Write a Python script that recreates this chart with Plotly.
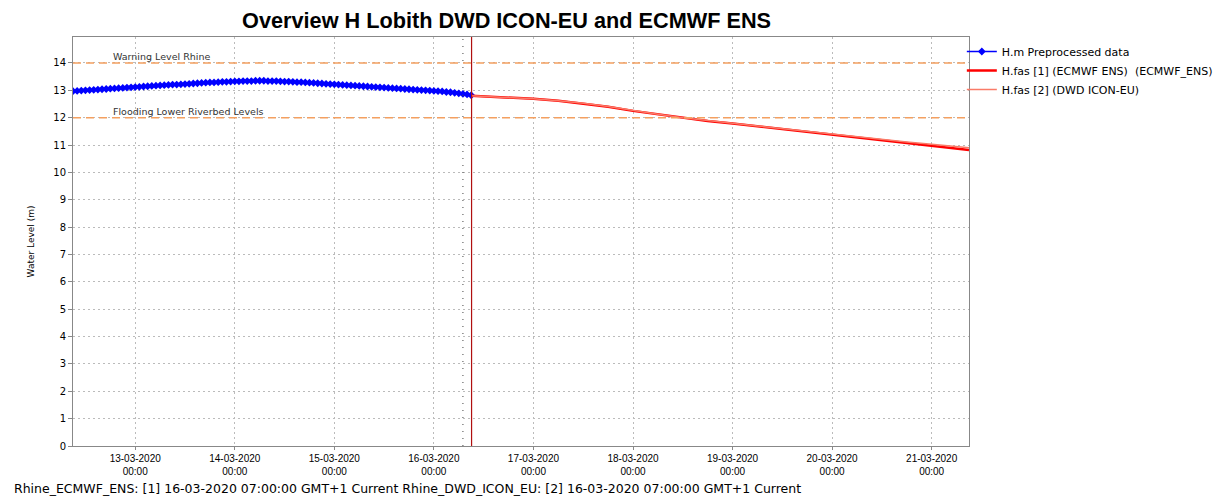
import plotly.graph_objects as go
import pandas as pd

# ---------------- data ----------------
obs_start = "2020-03-12 09:00"
obs_values = [
    12.97, 12.98, 12.99, 13.00, 13.01, 13.02, 13.03, 13.04, 13.05, 13.06, 13.07, 13.08, 13.09, 13.10, 13.11,
    13.12, 13.13, 13.14, 13.15, 13.16, 13.17, 13.18, 13.19, 13.20, 13.21, 13.21, 13.22, 13.23, 13.24, 13.25,
    13.26, 13.27, 13.28, 13.29, 13.29, 13.30, 13.31, 13.31, 13.32,
    13.33, 13.33, 13.34, 13.34, 13.34, 13.35, 13.35, 13.35, 13.34, 13.34, 13.34, 13.33, 13.32, 13.32, 13.31,
    13.30, 13.30, 13.29, 13.28, 13.27, 13.26, 13.25, 13.24, 13.23,
    13.22, 13.21, 13.20, 13.19, 13.18, 13.17, 13.16, 13.15, 13.14, 13.13, 13.12, 13.11, 13.10, 13.09, 13.08,
    13.07, 13.06, 13.05, 13.04, 13.03, 13.02, 13.01, 13.00, 12.99,
    12.98, 12.97, 12.96, 12.94, 12.93, 12.91, 12.89, 12.87, 12.85, 12.82,
]

fc_times = [
    "2020-03-16 09:00", "2020-03-16 12:00", "2020-03-16 18:00",
    "2020-03-17 00:00", "2020-03-17 06:00", "2020-03-17 12:00", "2020-03-17 18:00",
    "2020-03-18 00:00", "2020-03-18 06:00", "2020-03-18 12:00", "2020-03-18 18:00",
    "2020-03-19 00:00", "2020-03-19 06:00", "2020-03-19 12:00", "2020-03-19 18:00",
    "2020-03-20 00:00", "2020-03-20 06:00", "2020-03-20 12:00", "2020-03-20 18:00",
    "2020-03-21 00:00", "2020-03-21 06:00", "2020-03-21 09:00",
]
ecmwf_values = [12.80, 12.78, 12.74, 12.69, 12.62, 12.52, 12.40, 12.25, 12.12, 11.99, 11.88,
                11.79, 11.69, 11.59, 11.48, 11.37, 11.27, 11.17, 11.07, 10.98, 10.87, 10.82]
dwd_values = [12.80, 12.78, 12.74, 12.69, 12.62, 12.53, 12.41, 12.26, 12.13, 12.00, 11.89,
              11.80, 11.70, 11.60, 11.50, 11.39, 11.30, 11.20, 11.11, 11.03, 10.94, 10.90]

threshold_values = [14, 12]
threshold_labels = ["Warning Level Rhine", "Flooding Lower Riverbed Levels"]

tick_days = ["2020-03-13", "2020-03-14", "2020-03-15", "2020-03-16", "2020-03-17",
             "2020-03-18", "2020-03-19", "2020-03-20", "2020-03-21"]
tick_text = [pd.Timestamp(d).strftime("%d-%m-%Y") + "<br>00:00" for d in tick_days]

t0_time = "2020-03-16 07:00"
now_time = "2020-03-16 09:05"
x_range = ["2020-03-12 09:00", "2020-03-21 09:00"]

title = "Overview H Lobith DWD ICON-EU and ECMWF ENS"
footer = ("Rhine_ECMWF_ENS: [1] 16-03-2020 07:00:00 GMT+1 Current Rhine_DWD_ICON_EU: "
          "[2] 16-03-2020 07:00:00 GMT+1 Current")

# ---------------- figure ----------------
obs_times = pd.date_range(obs_start, periods=len(obs_values), freq="h")

FONT = "DejaVu Sans"
fig = go.Figure()

fig.add_trace(go.Scatter(
    x=obs_times, y=obs_values, mode="lines+markers", name="H.m Preprocessed data",
    line=dict(color="#0000FF", width=1.5),
    marker=dict(symbol="diamond", size=6, color="#0000FF"),
))
fig.add_trace(go.Scatter(
    x=fc_times, y=ecmwf_values, mode="lines", name="H.fas [1] (ECMWF ENS)  (ECMWF_ENS)",
    line=dict(color="#FF0000", width=2.5),
))
fig.add_trace(go.Scatter(
    x=fc_times, y=dwd_values, mode="lines", name="H.fas [2] (DWD ICON-EU)",
    line=dict(color="#FA7B68", width=1.5),
))

for v, lab in zip(threshold_values, threshold_labels):
    fig.add_hline(y=v, line=dict(color="#F4A060", width=1.5, dash="8px,5px"), layer="above")
    fig.add_annotation(x="2020-03-12 18:15", y=v, text=lab, showarrow=False,
                       xanchor="left", yanchor="bottom", yshift=-1,
                       font=dict(family=FONT, size=9.5, color="#333333"))

fig.add_shape(type="line", xref="x", yref="paper", x0=t0_time, x1=t0_time, y0=0, y1=1,
              line=dict(color="#444444", width=1, dash="1px,6px"))
fig.add_shape(type="line", xref="x", yref="paper", x0=now_time, x1=now_time, y0=0, y1=1,
              line=dict(color="#B01010", width=1.2))

fig.update_layout(
    width=1216, height=490,
    margin=dict(l=65, r=255, t=29, b=52, autoexpand=False),
    paper_bgcolor="white", plot_bgcolor="white",
    font=dict(family=FONT, size=10, color="#000000"),
    title=dict(text="<b>" + title + "</b>", x=0.410, xanchor="center",
               xref="container", yref="container", y=0.9755, yanchor="middle",
               font=dict(family="Liberation Sans", size=21.7, color="#000000")),
    showlegend=True,
    legend=dict(x=0.992, xanchor="left", y=1.0, yanchor="top", itemwidth=30,
                font=dict(family=FONT, size=11, color="#000000"),
                bgcolor="rgba(0,0,0,0)", tracegroupgap=0),
)

fig.update_xaxes(
    type="date", range=x_range, automargin=False,
    tickvals=tick_days, ticktext=tick_text, tickangle=0,
    showgrid=True, gridcolor="#BBBBBB", griddash="2px,3px", gridwidth=1,
    showline=True, linecolor="#888888", linewidth=1, mirror=True,
    ticks="outside", ticklen=3, tickcolor="#888888",
    tickfont=dict(family="Liberation Sans", size=10, color="#000000"),
    zeroline=False,
)
fig.update_yaxes(
    range=[0, 14.95], dtick=1, tick0=0, automargin=False,
    showgrid=True, gridcolor="#BBBBBB", griddash="2px,3px", gridwidth=1,
    showline=True, linecolor="#888888", linewidth=1, mirror=True,
    ticks="outside", ticklen=4, tickcolor="#888888",
    tickfont=dict(family=FONT, size=10, color="#000000"),
    title=dict(text="Water Level (m)", font=dict(family=FONT, size=9, color="#000000"), standoff=17),
    zeroline=False,
)

fig.add_annotation(xref="paper", yref="paper", x=-0.068, y=-0.1027, xanchor="left", yanchor="middle",
                   text=footer, showarrow=False, font=dict(family=FONT, size=12.5, color="#000000"))

fig.write_html("out.html")
